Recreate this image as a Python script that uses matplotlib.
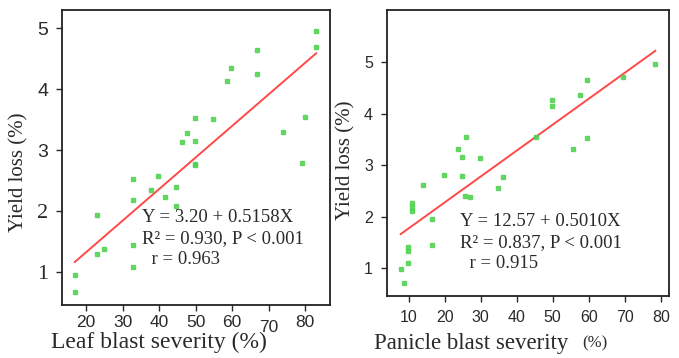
import numpy as np
import matplotlib.pyplot as plt
from matplotlib.transforms import ScaledTranslation


# leaf blast severity (%) vs yield loss (%)
leaf_x = [83.0, 83.0, 66.9, 66.9, 59.7, 58.6, 49.8, 54.7, 47.6, 46.4, 49.8,
          49.8, 49.8, 74.0, 79.9, 79.0, 32.9, 39.8, 32.9, 37.9, 41.7, 44.7,
          44.7, 23.0, 23.0, 25.0, 32.9, 32.9, 16.9, 16.9]
leaf_y = [4.95, 4.69, 4.64, 4.25, 4.35, 4.13, 3.52, 3.51, 3.29, 3.13, 3.15,
          2.78, 2.75, 3.30, 3.55, 2.79, 2.52, 2.58, 2.18, 2.35, 2.24, 2.39,
          2.08, 1.94, 1.29, 1.38, 1.44, 1.08, 0.95, 0.67]

# panicle blast severity (%) vs yield loss (%)
pan_x = [78.5, 69.6, 59.6, 57.7, 49.7, 49.7, 59.6, 55.7, 45.3, 25.8, 23.8,
         24.9, 29.8, 19.8, 24.9, 36.1, 14.0, 34.7, 25.6, 27.1, 10.9, 10.9,
         10.9, 16.5, 16.5, 9.9, 9.9, 9.9, 7.8, 8.8]
pan_y = [4.97, 4.71, 4.66, 4.37, 4.27, 4.15, 3.53, 3.32, 3.56, 3.55, 3.32,
         3.17, 3.15, 2.82, 2.80, 2.78, 2.61, 2.55, 2.41, 2.38, 2.26, 2.19,
         2.12, 1.96, 1.46, 1.41, 1.33, 1.11, 0.98, 0.71]

# drawn regression lines (as plotted in the figure)
leaf_fit = (0.29, 0.0518)
pan_fit = (1.27, 0.0504)

leaf_text = ["Y = 3.20 + 0.5158X", "R² = 0.930, P < 0.001", "  r = 0.963"]
pan_text = ["Y = 12.57 + 0.5010X", "R² = 0.837, P < 0.001", "  r = 0.915"]

leaf_xticks = [20, 30, 40, 50, 60, 70, 80]
pan_xticks = [10, 20, 30, 40, 50, 60, 70, 80]
yticks = [1, 2, 3, 4, 5]

SERIF = "Liberation Serif"
SANS = "Liberation Sans"
GREEN = "#4fd24f"
RED = "#ff4848"
INK = "#2a2a2a"


def style_axes(ax):
    for s in ax.spines.values():
        s.set_linewidth(1.3)
        s.set_color("#222222")
    ax.tick_params(direction="out", length=4, width=1, colors=INK)


def draw_panel(ax, x, y, fit, texts, text_xy, step):
    ax.plot(x, y, "s", ms=3.2, color=GREEN, mec=GREEN, alpha=0.85, zorder=3)
    xs = np.array([min(x), max(x)])
    ax.plot(xs, fit[0] + fit[1] * xs, color=RED, lw=1.4, zorder=2)
    tx, ty = text_xy
    for i, t in enumerate(texts):
        ax.text(tx, ty - i * step, t, transform=ax.transAxes, fontsize=13.5,
                family=SERIF, color=INK, va="center", ha="left")


fig = plt.figure(figsize=(6.79, 3.58), dpi=100)

# left panel
ax1 = fig.add_axes([62 / 679, 53 / 358, 268 / 679, 295 / 358])
style_axes(ax1)
draw_panel(ax1, leaf_x, leaf_y, leaf_fit, leaf_text, (0.30, 0.296), 0.071)
ax1.set_xlim(13.4, 86.8)
ax1.set_ylim(0.46, 5.3)
ax1.set_xticks(leaf_xticks)
ax1.set_yticks(yticks)
ax1.set_xticklabels([str(v) for v in leaf_xticks], family=SANS, fontsize=12.5)
ax1.set_yticklabels([str(v) for v in yticks], fontsize=14)
for lab, v in zip(ax1.get_yticklabels(), yticks):
    lab.set_family(SERIF if v <= 2 else SANS)
    lab.set_fontsize(16 if v <= 2 else 14)
ax1.tick_params(axis="x", pad=3)
ax1.tick_params(axis="y", pad=6)
# the "70" label sits a little lower in the original
lab70 = ax1.get_xticklabels()[leaf_xticks.index(70)]
lab70.set_transform(lab70.get_transform() +
                    ScaledTranslation(0, -5 / 100, fig.dpi_scale_trans))
ax1.set_xlabel("Leaf blast severity (%)", family=SERIF, fontsize=17,
               color=INK)
ax1.xaxis.set_label_coords(0.36, -0.09)
ax1.set_ylabel("Yield loss (%)", family=SERIF, fontsize=15, color=INK)
ax1.yaxis.set_label_coords(-0.125, 0.45)

# right panel
ax2 = fig.add_axes([387 / 679, 62 / 358, 282 / 679, 286 / 358])
style_axes(ax2)
draw_panel(ax2, pan_x, pan_y, pan_fit, pan_text, (0.259, 0.26), 0.073)
ax2.set_xlim(4.0, 82.3)
ax2.set_ylim(0.46, 6.02)
ax2.set_xticks(pan_xticks)
ax2.set_yticks(yticks)
ax2.set_xticklabels([str(v) for v in pan_xticks], family=SANS, fontsize=11.5)
ax2.set_yticklabels([str(v) for v in yticks], family=SANS, fontsize=11.5)
ax2.tick_params(axis="x", pad=6)
ax2.tick_params(axis="y", pad=6)
ax2.set_xlabel("Panicle blast severity", family=SERIF, fontsize=16.5,
               color=INK)
ax2.xaxis.set_label_coords(0.30, -0.13)
ax2.text(0.737, -0.165, "(%)", transform=ax2.transAxes, family=SERIF,
         fontsize=12, color=INK, ha="center", va="center")
ax2.set_ylabel("Yield loss (%)", family=SERIF, fontsize=15, color=INK)
ax2.yaxis.set_label_coords(-0.11, 0.475)

fig.savefig("out.png", dpi=100)
